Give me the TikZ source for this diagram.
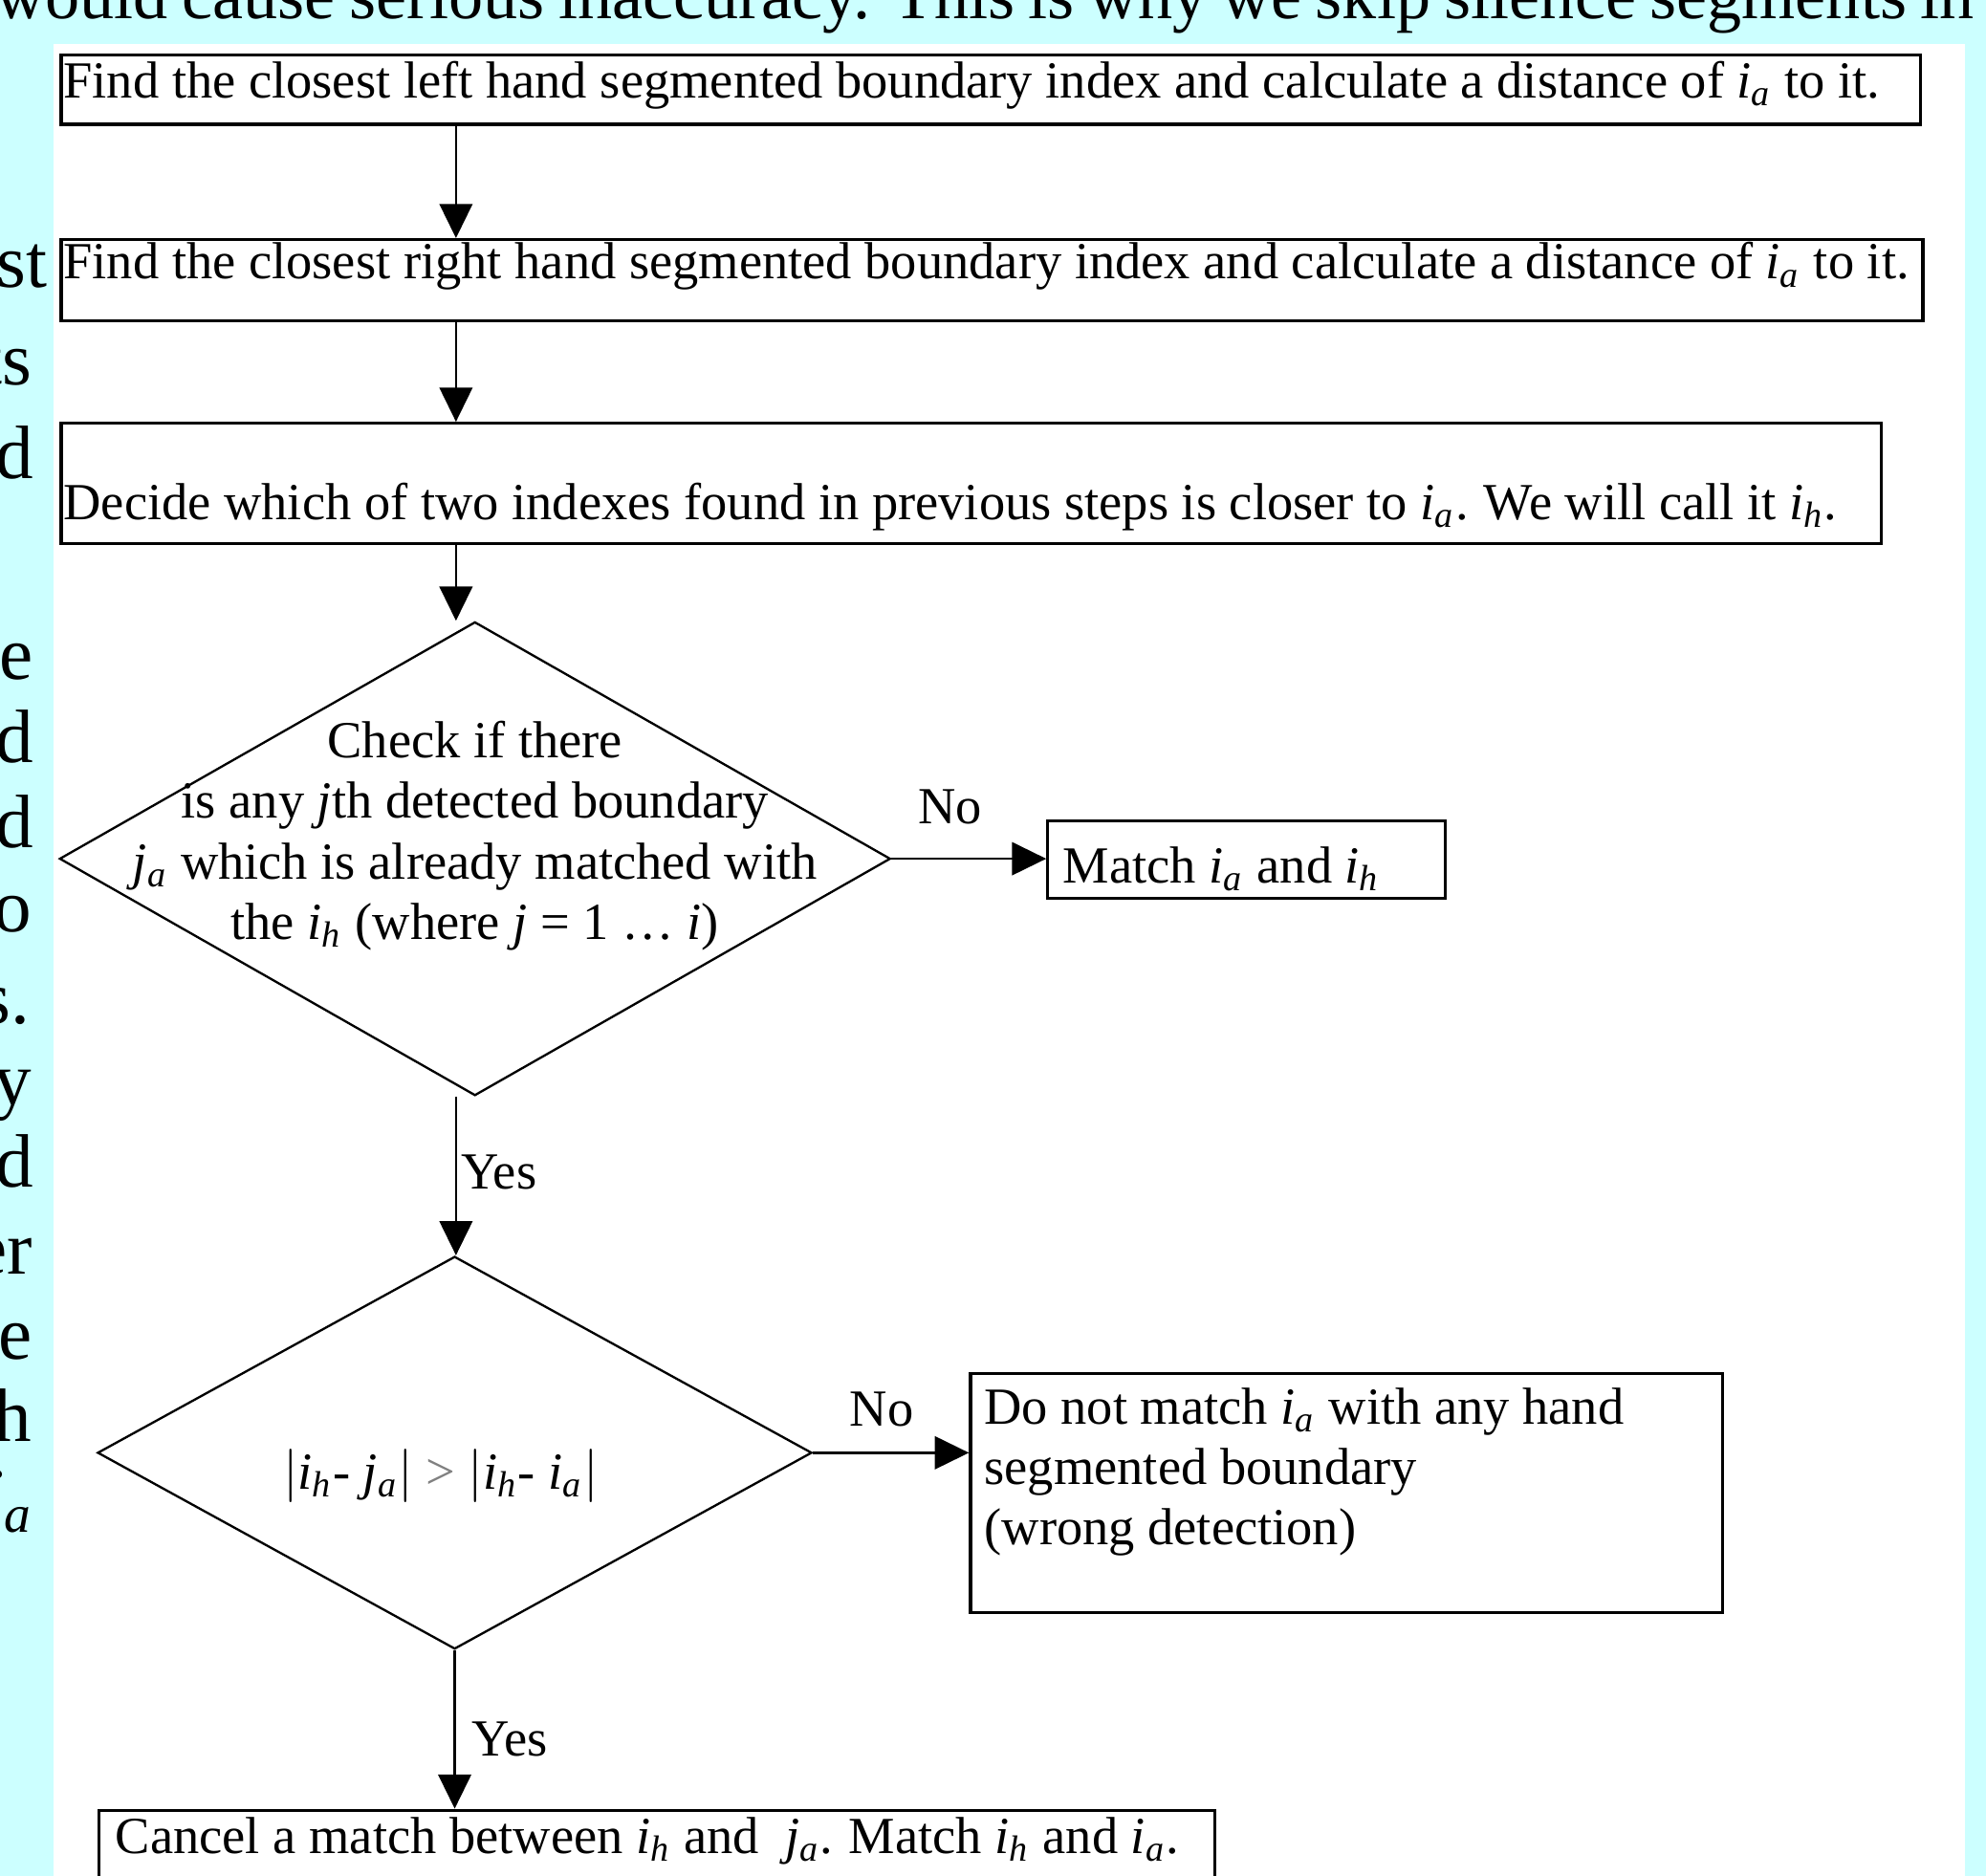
\documentclass[tikz,border=0pt]{standalone}
\usepackage{fontspec}
\setmainfont{Liberation Serif}
\usetikzlibrary{shapes.geometric,arrows.meta}
\definecolor{sky}{RGB}{204,255,255}
\newcommand{\ix}[2]{\textit{#1}\textsubscript{\textit{#2}}}
\newcommand{\chart}{\fontsize{11.7}{13.6}\selectfont}
\newcommand{\bigtext}{\fontsize{17}{19}\selectfont}

\begin{document}
\begin{tikzpicture}[
	stepbox/.style={draw, line width=0.7pt, rectangle, anchor=north west, align=left, inner xsep=0.2mm, inner ysep=0pt, font=\chart,
		execute at begin node={\spaceskip=0.25em\xspaceskip=0.3em\relax}},
	test/.style={draw, line width=0.5pt, diamond, inner sep=0pt},
	arr/.style={line width=0.5pt, -{Triangle[length=2.7mm,width=2.6mm]}},
	lbl/.style={inner sep=0pt, font=\chart}]
\useasboundingbox (0,0) rectangle (15.68,-14.81);
\clip (0,0) rectangle (15.68,-14.81);
\fill[sky] (0,0) rectangle (15.68,-14.81);
\node[anchor=base west, inner sep=0pt, font=\fontsize{15.5}{19}\selectfont] (para) at (-0.04,-0.15) {\makebox[15.62cm][s]{would cause serious inaccuracy. This is why we skip silence segments in}};
\foreach \t/\x/\y in {st/0.38/2.27, ts/0.26/3.04, d/0.27/3.78, e/0.27/5.36, d/0.27/6.02, d/0.27/6.69, o/0.26/7.36, s./0.24/8.08, y/0.26/8.72, d/0.27/9.37, er/0.26/10.06, e/0.26/10.73, h/0.26/11.38, {\ix{j}{a}}/0.27/12.01}
	\node[anchor=base east, inner sep=0pt, font=\bigtext] at (\x,-\y) {\t};
\fill[white] (0.42,-0.35) rectangle (15.51,-15);

\node[stepbox, text width=14.64cm, text height=3.4mm, text depth=2.1mm] (left) at (0.47,-0.42) {\mbox{Find the closest left hand segmented boundary index and calculate a distance of \ix{i}{a} to it.}};
\node[stepbox, text width=14.66cm, text height=3.1mm, text depth=3.3mm] (right) at (0.47,-1.88) {\mbox{Find the closest right hand segmented boundary index and calculate a distance of \ix{i}{a} to it.}};
\node[stepbox, text width=14.33cm, text height=7.6mm, text depth=1.9mm] (closer) at (0.47,-3.33) {\mbox{Decide which of two indexes found in previous steps is closer to \ix{i}{a}. We will call it \ix{i}{h}.}};
\node[test, minimum width=6.56cm, minimum height=3.74cm, label={[lbl, align=center, yshift=1.8mm]center:Check if there\\is any \textit{j}th detected boundary\\\ix{j}{a} which is already matched with\\the \ix{i}{h} (where \textit{j} = 1 \ldots\ \textit{i})}] (check) at (3.75,-6.78) {};
\node[stepbox, text width=2.90cm, inner xsep=1.2mm, text height=4.9mm, text depth=1.2mm] (match) at (8.26,-6.47) {\mbox{Match \ix{i}{a} and \ix{i}{h}}};
\node[test, minimum width=5.64cm, minimum height=3.10cm, label={[lbl, xshift=-1.1mm, yshift=-1.8mm]center:$\big|$\ix{i}{h}- \ix{j}{a}$\big|$ {\color{gray}>} $\big|$\ix{i}{h}- \ix{i}{a}$\big|$}] (diff) at (3.59,-11.47) {};
\node[stepbox, text width=5.72cm, inner xsep=1.1mm, text height=4.0mm, text depth=14.9mm] (reject) at (7.65,-10.83) {Do not match \ix{i}{a} with any hand\\segmented boundary\\(wrong detection)};
\node[stepbox, text width=8.55cm, inner xsep=1.3mm, text height=3.4mm, text depth=4.6mm] (cancel) at (0.77,-14.28) {\mbox{Cancel a match between \ix{i}{h} and\ \ \ix{j}{a}. Match \ix{i}{h} and \ix{i}{a}.}};

\coordinate (spine) at (3.60,0);
\draw[arr] (spine |- left.south) -- (spine |- right.north);
\draw[arr] (spine |- right.south) -- (spine |- closer.north);
\draw[arr] (spine |- closer.south) -- (spine |- check.north);
\draw[arr] (check.east) -- node[lbl, pos=0.38, yshift=4.1mm] {No} (match.west |- check.east);
\draw[arr] (spine |- check.south) -- node[lbl, midway, anchor=west, xshift=0.3mm, yshift=0.3mm] {Yes} (spine |- diff.north);
\draw[arr] (diff.east) -- node[lbl, pos=0.44, yshift=3.4mm] {No} (reject.west |- diff.east);
\draw[arr] (diff.south) -- node[lbl, midway, anchor=west, xshift=1.3mm, yshift=-0.8mm] {Yes} (diff.south |- cancel.north);
\end{tikzpicture}
\end{document}
